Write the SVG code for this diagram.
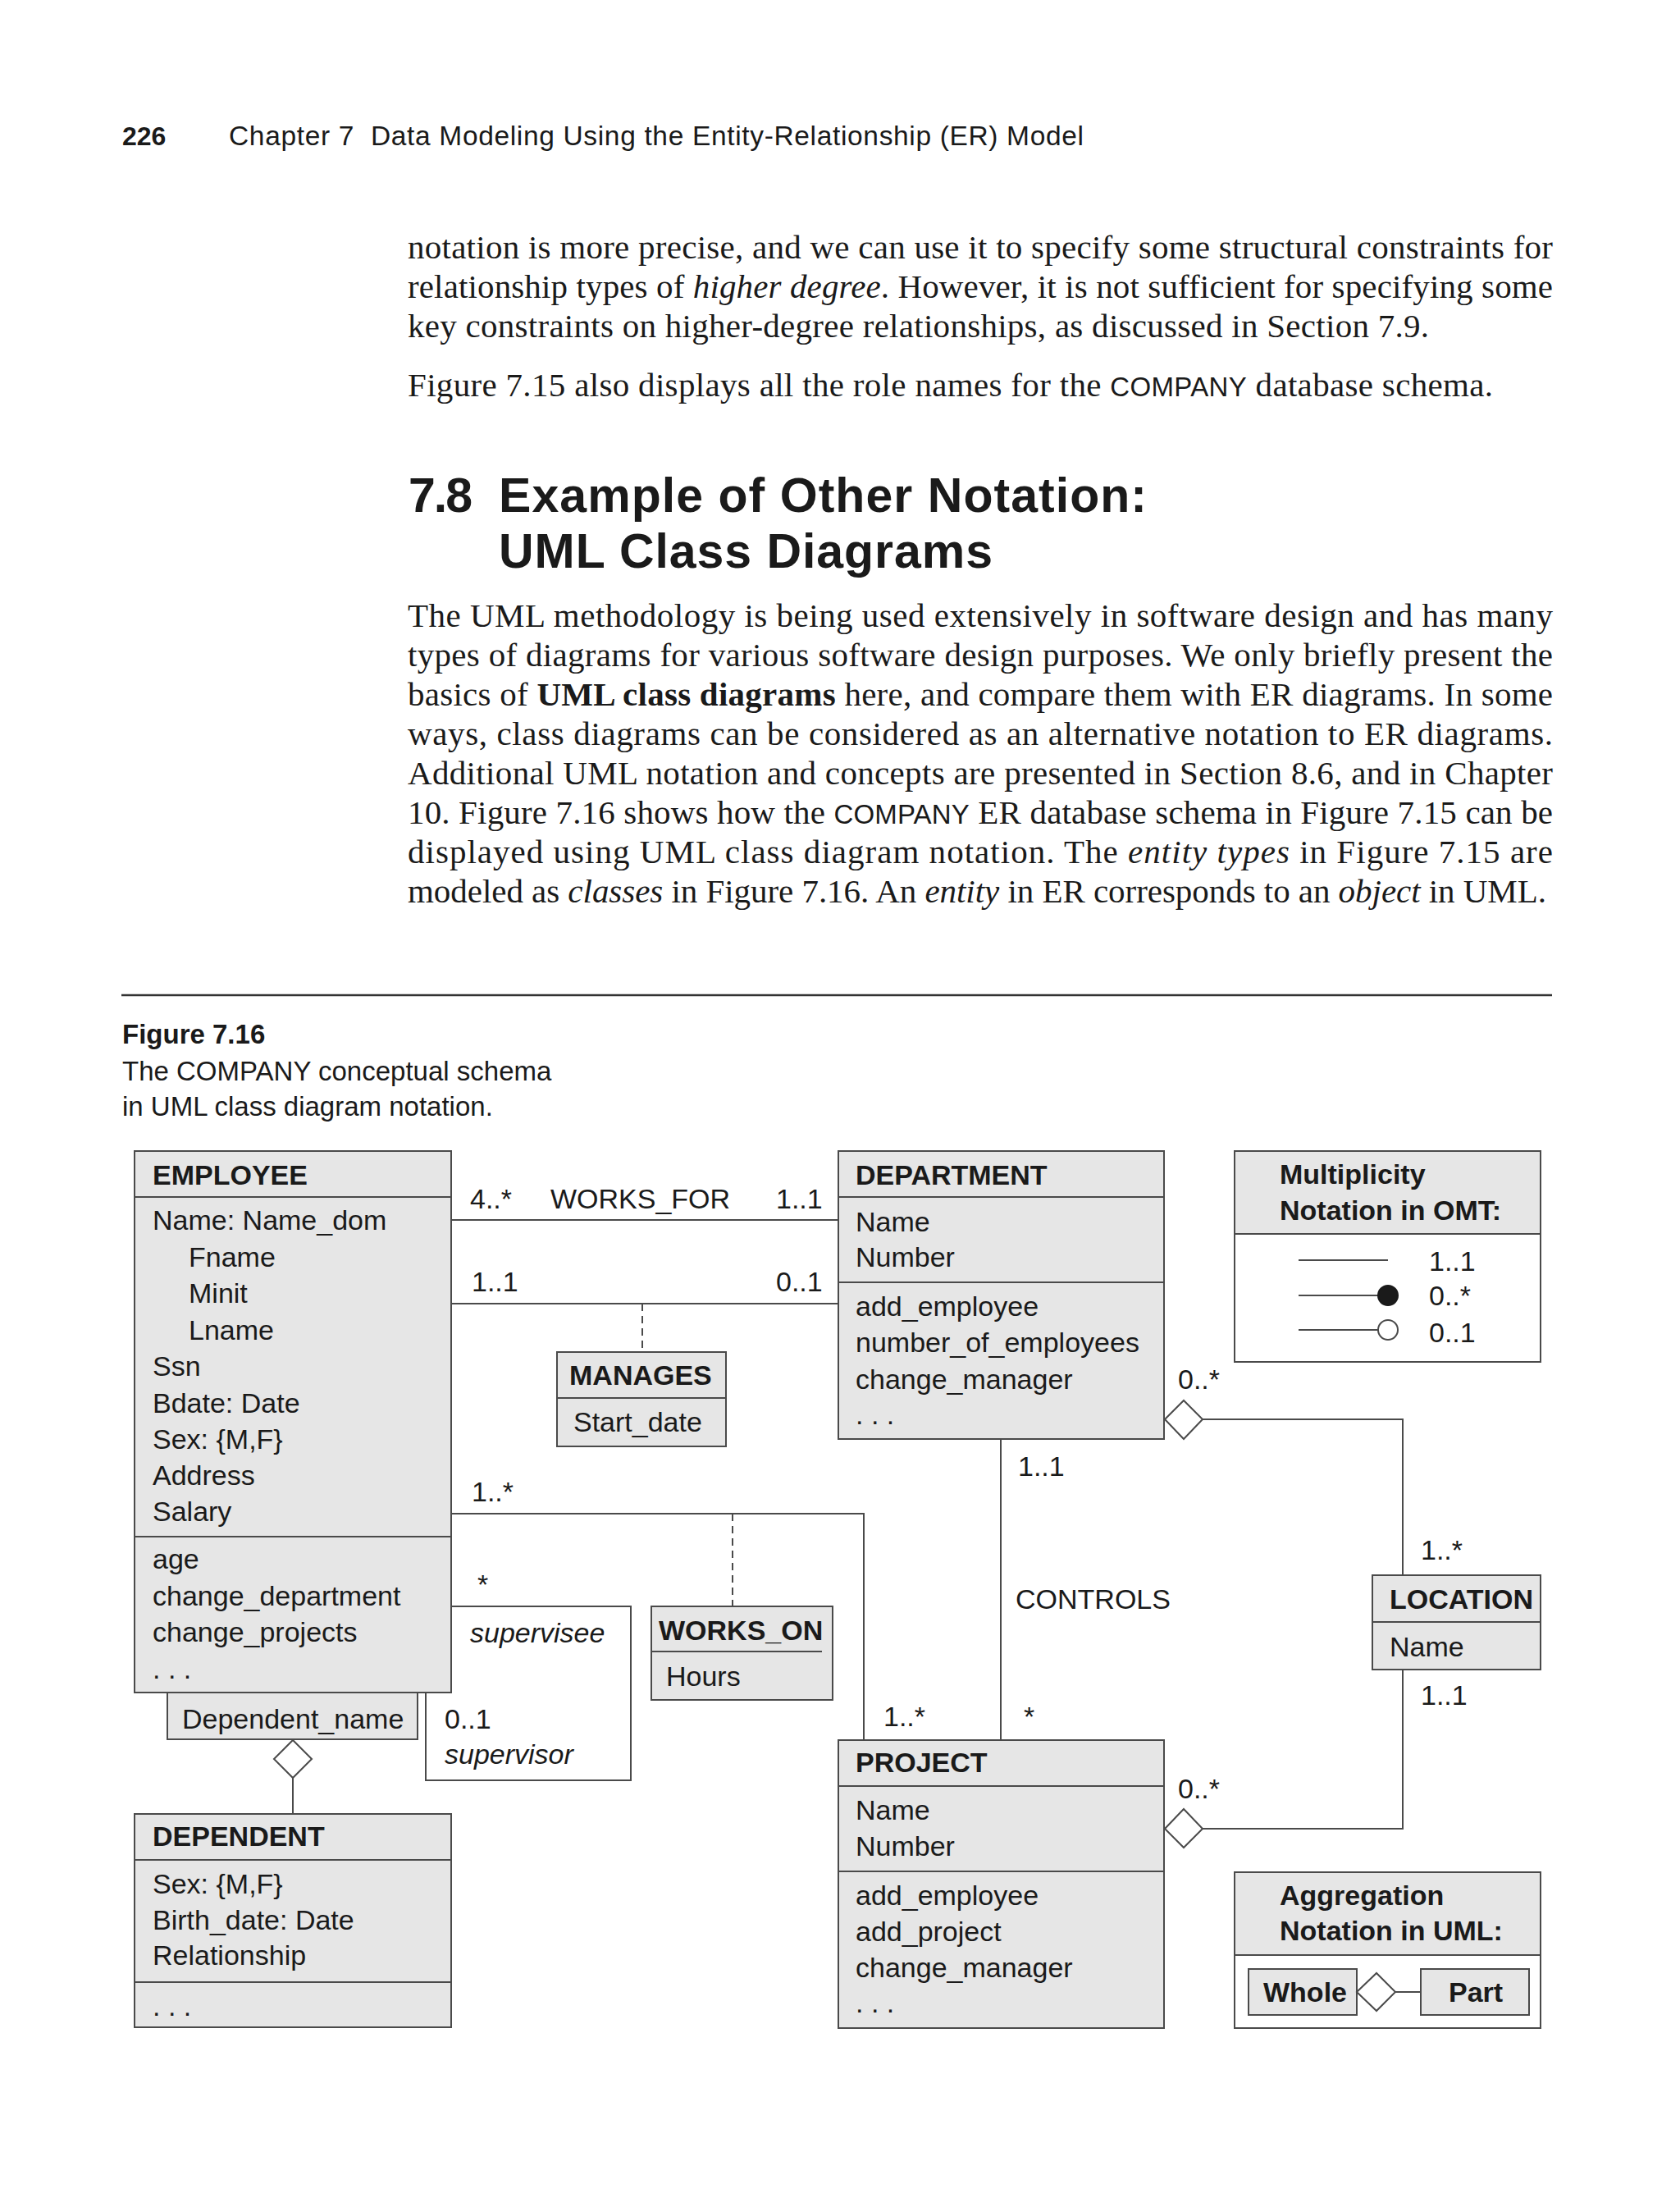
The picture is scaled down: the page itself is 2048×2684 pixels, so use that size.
<svg xmlns="http://www.w3.org/2000/svg" width="2048" height="2684" viewBox="0 0 2048 2684">
<style>
.pg{font-family:"Liberation Serif","Times New Roman",serif;font-size:41px;fill:#1a1a1a}
.hd{font-family:"Liberation Sans",Arial,sans-serif;fill:#1a1a1a}
.sc{font-family:"Liberation Sans",Arial,sans-serif;font-size:33px}
.t{font-family:"Liberation Sans",Arial,sans-serif;font-size:34px;fill:#1a1a1a}
.b{font-weight:bold}
.i{font-style:italic}
.box{fill:#e6e6e6;stroke:#4a4a4a;stroke-width:2}
.wbox{fill:#ffffff;stroke:#4a4a4a;stroke-width:2}
.sep{stroke:#4a4a4a;stroke-width:2;fill:none}
.ln{stroke:#4a4a4a;stroke-width:2;fill:none}
.dash{stroke:#4a4a4a;stroke-width:2;fill:none;stroke-dasharray:9,6}
.dia{fill:#ffffff;stroke:#4a4a4a;stroke-width:2}
</style>
<rect x="0" y="0" width="2048" height="2684" fill="#ffffff"/>

<!-- page header -->
<text class="hd b" x="149" y="177" font-size="32">226</text>
<text class="hd" x="279" y="177" font-size="33.5" textLength="1042" xml:space="preserve">Chapter 7  Data Modeling Using the Entity-Relationship (ER) Model</text>

<!-- first paragraph -->
<text class="pg" x="497" y="315" textLength="1396">notation is more precise, and we can use it to specify some structural constraints for</text>
<text class="pg" x="497" y="363" textLength="1396">relationship types of <tspan font-style="italic">higher degree</tspan>. However, it is not sufficient for specifying some</text>
<text class="pg" x="497" y="411" textLength="1245">key constraints on higher-degree relationships, as discussed in Section 7.9.</text>
<text class="pg" x="497" y="483" textLength="1323">Figure 7.15 also displays all the role names for the <tspan class="sc">COMPANY</tspan> database schema.</text>

<!-- section heading -->
<text class="hd b" x="498" y="624" font-size="59" textLength="78">7.8</text>
<text class="hd b" x="608" y="624" font-size="59" textLength="790">Example of Other Notation:</text>
<text class="hd b" x="608" y="692" font-size="59" textLength="602">UML Class Diagrams</text>

<!-- second paragraph -->
<text class="pg" x="497" y="764" textLength="1396">The UML methodology is being used extensively in software design and has many</text>
<text class="pg" x="497" y="812" textLength="1396">types of diagrams for various software design purposes. We only briefly present the</text>
<text class="pg" x="497" y="860" textLength="1396">basics of <tspan font-weight="bold">UML class diagrams</tspan> here, and compare them with ER diagrams. In some</text>
<text class="pg" x="497" y="908" textLength="1396">ways, class diagrams can be considered as an alternative notation to ER diagrams.</text>
<text class="pg" x="497" y="956" textLength="1396">Additional UML notation and concepts are presented in Section 8.6, and in Chapter</text>
<text class="pg" x="497" y="1004" textLength="1396">10. Figure 7.16 shows how the <tspan class="sc">COMPANY</tspan> ER database schema in Figure 7.15 can be</text>
<text class="pg" x="497" y="1052" textLength="1396">displayed using UML class diagram notation. The <tspan font-style="italic">entity types</tspan> in Figure 7.15 are</text>
<text class="pg" x="497" y="1100" textLength="1388">modeled as <tspan font-style="italic">classes</tspan> in Figure 7.16. An <tspan font-style="italic">entity</tspan> in ER corresponds to an <tspan font-style="italic">object</tspan> in UML.</text>

<!-- figure rule and caption -->
<line x1="148" y1="1213" x2="1892" y2="1213" stroke="#333333" stroke-width="2.5"/>
<text class="hd b" x="149" y="1272" font-size="33">Figure 7.16</text>
<text class="hd" x="149" y="1317" font-size="33">The COMPANY conceptual schema</text>
<text class="hd" x="149" y="1360" font-size="33">in UML class diagram notation.</text>

<!-- connectors -->
<g id="connectors">
  <path class="ln" d="M550,1487 H1022"/>
  <path class="ln" d="M550,1589 H1022"/>
  <path class="dash" d="M783,1589 V1648"/>
  <path class="ln" d="M550,1845 H1053 V2121"/>
  <path class="dash" d="M893,1845 V1958"/>
  <path class="ln" d="M550,1958 H769 V2170 H519 V2063"/>
  <path class="ln" d="M357,2167 V2211"/>
  <polygon class="dia" points="357,2121 380,2144 357,2167 334,2144"/>
  <path class="ln" d="M1220,1754 V2121"/>
  <path class="ln" d="M1466,1730 H1710 V1920"/>
  <polygon class="dia" points="1420,1730 1443,1707 1466,1730 1443,1754"/>
  <path class="ln" d="M1466,2229 H1710 V2035"/>
  <polygon class="dia" points="1420,2229 1443,2205 1466,2229 1443,2252"/>
  <text class="t" x="573" y="1473">4..*</text>
  <text class="t" x="671" y="1473">WORKS_FOR</text>
  <text class="t" x="946" y="1473">1..1</text>
  <text class="t" x="575" y="1574">1..1</text>
  <text class="t" x="946" y="1574">0..1</text>
  <text class="t" x="575" y="1830">1..*</text>
  <text class="t" x="582" y="1943">*</text>
  <text class="t i" x="573" y="2002">supervisee</text>
  <text class="t" x="542" y="2107">0..1</text>
  <text class="t i" x="542" y="2150">supervisor</text>
  <text class="t" x="1241" y="1799">1..1</text>
  <text class="t" x="1238" y="1961">CONTROLS</text>
  <text class="t" x="1077" y="2104">1..*</text>
  <text class="t" x="1248" y="2104">*</text>
  <text class="t" x="1436" y="1693">0..*</text>
  <text class="t" x="1732" y="1901">1..*</text>
  <text class="t" x="1732" y="2078">1..1</text>
  <text class="t" x="1436" y="2192">0..*</text>
</g>

<!-- EMPLOYEE -->
<g id="employee">
  <rect class="box" x="164" y="1403" width="386" height="660"/>
  <line class="sep" x1="164" y1="1459" x2="550" y2="1459"/>
  <line class="sep" x1="164" y1="1873" x2="550" y2="1873"/>
  <text class="t b" x="186" y="1444">EMPLOYEE</text>
  <text class="t" x="186" y="1499">Name: Name_dom</text>
  <text class="t" x="230" y="1544">Fname</text>
  <text class="t" x="230" y="1588">Minit</text>
  <text class="t" x="230" y="1633">Lname</text>
  <text class="t" x="186" y="1677">Ssn</text>
  <text class="t" x="186" y="1722">Bdate: Date</text>
  <text class="t" x="186" y="1766">Sex: {M,F}</text>
  <text class="t" x="186" y="1810">Address</text>
  <text class="t" x="186" y="1854">Salary</text>
  <text class="t" x="186" y="1912">age</text>
  <text class="t" x="186" y="1957">change_department</text>
  <text class="t" x="186" y="2001">change_projects</text>
  <text class="t" x="186" y="2046">. . .</text>
</g>

<!-- qualifier Dependent_name -->
<g id="dependent-name">
  <rect class="box" x="204" y="2063" width="305" height="57"/>
  <text class="t" x="222" y="2107">Dependent_name</text>
</g>

<!-- DEPENDENT -->
<g id="dependent">
  <rect class="box" x="164" y="2211" width="386" height="260"/>
  <line class="sep" x1="164" y1="2267" x2="550" y2="2267"/>
  <line class="sep" x1="164" y1="2416" x2="550" y2="2416"/>
  <text class="t b" x="186" y="2250">DEPENDENT</text>
  <text class="t" x="186" y="2308">Sex: {M,F}</text>
  <text class="t" x="186" y="2352">Birth_date: Date</text>
  <text class="t" x="186" y="2395">Relationship</text>
  <text class="t" x="186" y="2457">. . .</text>
</g>

<!-- MANAGES -->
<g id="manages">
  <rect class="box" x="679" y="1648" width="206" height="115"/>
  <line class="sep" x1="679" y1="1704" x2="885" y2="1704"/>
  <text class="t b" x="694" y="1688">MANAGES</text>
  <text class="t" x="699" y="1745">Start_date</text>
</g>

<!-- WORKS_ON -->
<g id="works-on">
  <rect class="box" x="794" y="1958" width="221" height="114"/>
  <line class="sep" x1="794" y1="2013" x2="1002" y2="2013"/>
  <text class="t b" x="803" y="1999">WORKS_ON</text>
  <text class="t" x="812" y="2055">Hours</text>
</g>

<!-- DEPARTMENT -->
<g id="department">
  <rect class="box" x="1022" y="1403" width="397" height="351"/>
  <line class="sep" x1="1022" y1="1459" x2="1419" y2="1459"/>
  <line class="sep" x1="1022" y1="1563" x2="1419" y2="1563"/>
  <text class="t b" x="1043" y="1444">DEPARTMENT</text>
  <text class="t" x="1043" y="1501">Name</text>
  <text class="t" x="1043" y="1544">Number</text>
  <text class="t" x="1043" y="1604">add_employee</text>
  <text class="t" x="1043" y="1648">number_of_employees</text>
  <text class="t" x="1043" y="1693">change_manager</text>
  <text class="t" x="1043" y="1736">. . .</text>
</g>

<!-- LOCATION -->
<g id="location">
  <rect class="box" x="1673" y="1920" width="205" height="115"/>
  <line class="sep" x1="1673" y1="1977" x2="1878" y2="1977"/>
  <text class="t b" x="1694" y="1961">LOCATION</text>
  <text class="t" x="1694" y="2019">Name</text>
</g>

<!-- PROJECT -->
<g id="project">
  <rect class="box" x="1022" y="2121" width="397" height="351"/>
  <line class="sep" x1="1022" y1="2177" x2="1419" y2="2177"/>
  <line class="sep" x1="1022" y1="2281" x2="1419" y2="2281"/>
  <text class="t b" x="1043" y="2160">PROJECT</text>
  <text class="t" x="1043" y="2218">Name</text>
  <text class="t" x="1043" y="2262">Number</text>
  <text class="t" x="1043" y="2322">add_employee</text>
  <text class="t" x="1043" y="2366">add_project</text>
  <text class="t" x="1043" y="2410">change_manager</text>
  <text class="t" x="1043" y="2453">. . .</text>
</g>

<!-- Multiplicity legend -->
<g id="multiplicity-legend">
  <rect class="wbox" x="1505" y="1403" width="373" height="257"/>
  <rect class="box" x="1505" y="1403" width="373" height="101"/>
  <text class="t b" x="1560" y="1443">Multiplicity</text>
  <text class="t b" x="1560" y="1487">Notation in OMT:</text>
  <line class="ln" x1="1583" y1="1536" x2="1692" y2="1536" stroke-width="1.5"/>
  <line class="ln" x1="1583" y1="1579" x2="1680" y2="1579"/>
  <circle cx="1692" cy="1579" r="12" fill="#1a1a1a" stroke="#1a1a1a" stroke-width="2"/>
  <line class="ln" x1="1583" y1="1621" x2="1680" y2="1621"/>
  <circle cx="1692" cy="1621" r="12" fill="#ffffff" stroke="#4a4a4a" stroke-width="2"/>
  <text class="t" x="1742" y="1549">1..1</text>
  <text class="t" x="1742" y="1591">0..*</text>
  <text class="t" x="1742" y="1636">0..1</text>
</g>

<!-- Aggregation legend -->
<g id="aggregation-legend">
  <rect class="wbox" x="1505" y="2282" width="373" height="190"/>
  <rect class="box" x="1505" y="2282" width="373" height="101"/>
  <text class="t b" x="1560" y="2322">Aggregation</text>
  <text class="t b" x="1560" y="2365">Notation in UML:</text>
  <rect class="box" x="1522" y="2400" width="132" height="56"/>
  <text class="t b" x="1540" y="2440">Whole</text>
  <polygon class="dia" points="1654,2428 1678,2405 1701,2428 1678,2451"/>
  <line class="ln" x1="1701" y1="2428" x2="1732" y2="2428"/>
  <rect class="box" x="1732" y="2400" width="132" height="56"/>
  <text class="t b" x="1766" y="2440">Part</text>
</g>
</svg>
